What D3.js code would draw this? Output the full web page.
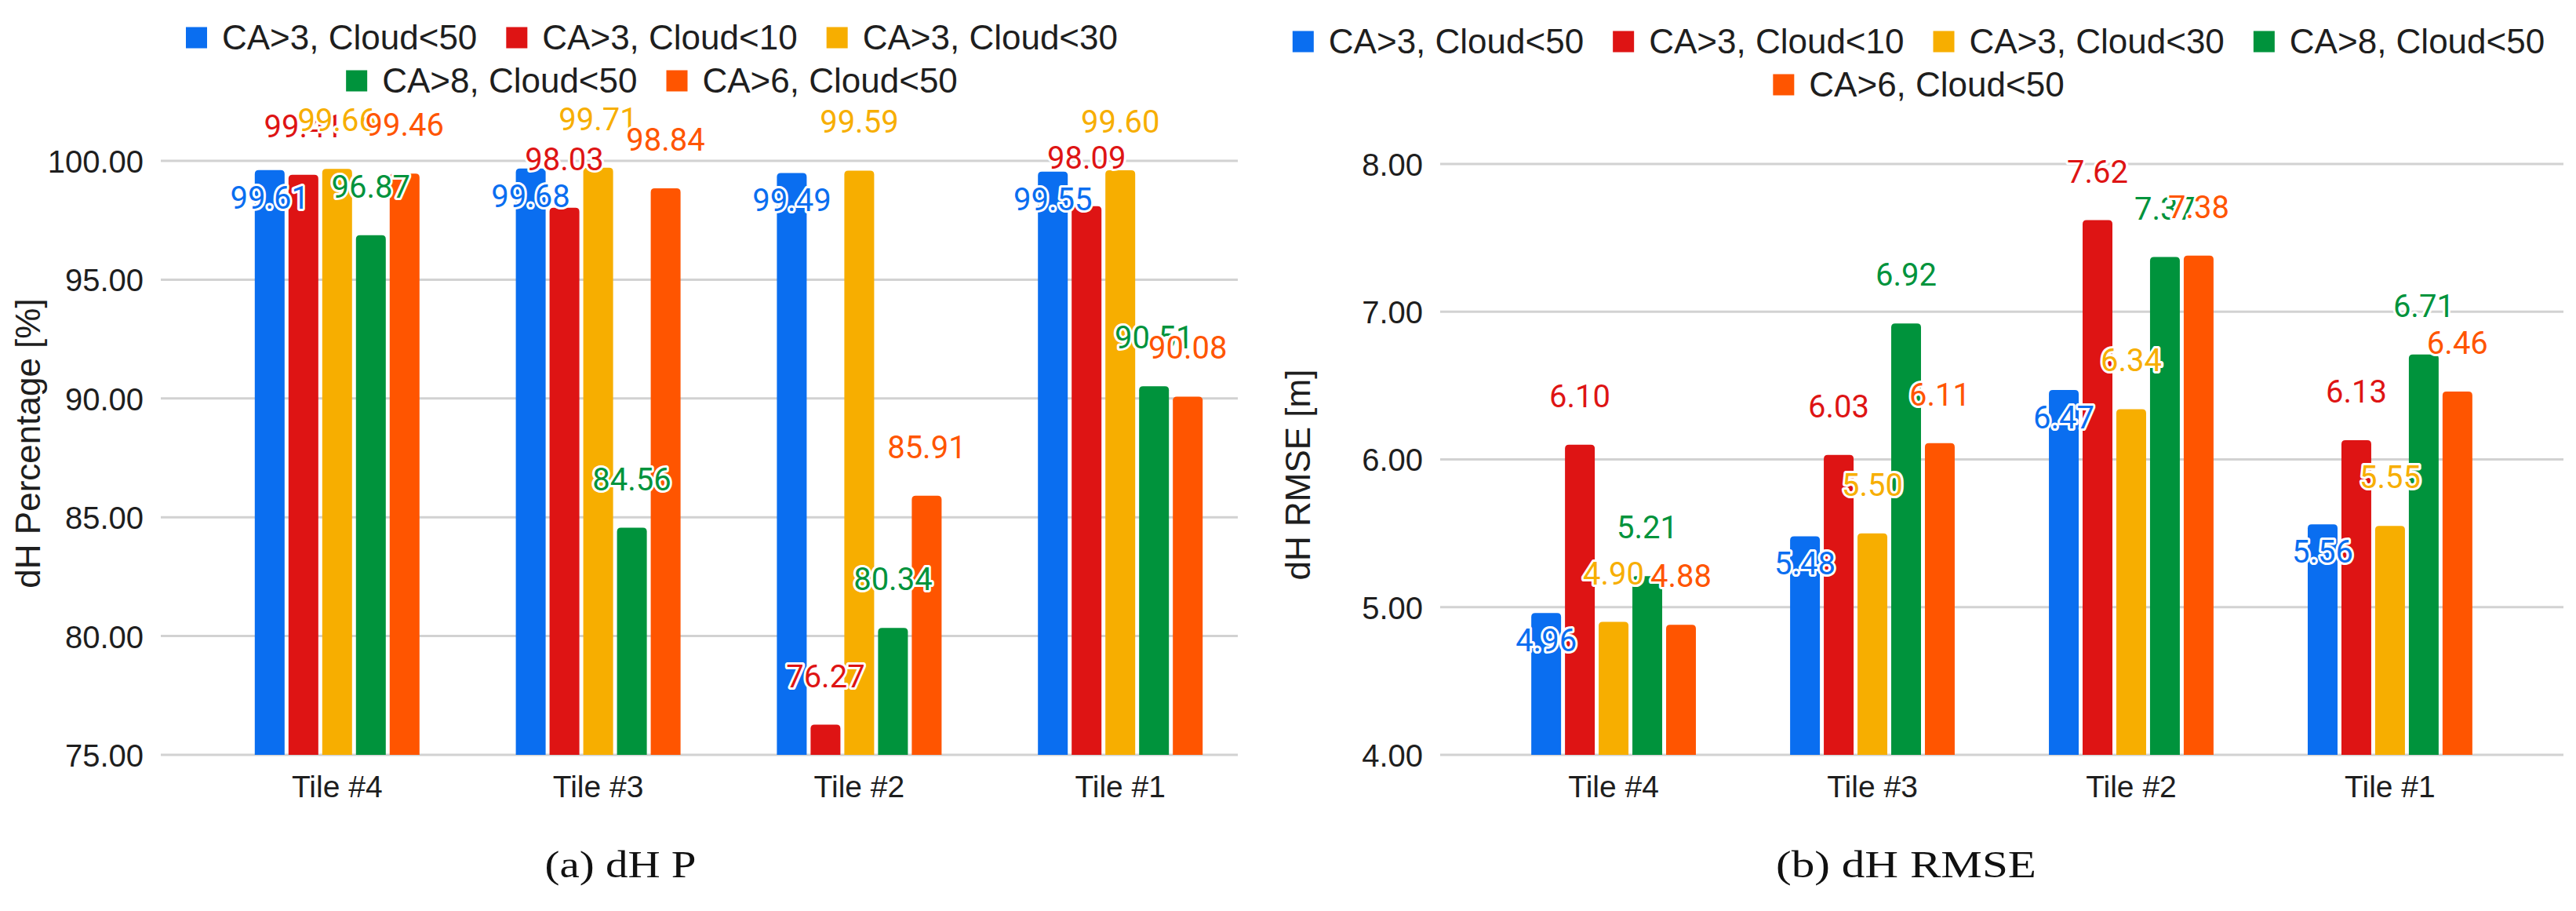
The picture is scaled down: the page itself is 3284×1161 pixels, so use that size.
<!DOCTYPE html>
<html>
<head>
<meta charset="utf-8">
<script src="https://cdn.jsdelivr.net/npm/d3@7"></script>
<style>
  html, body { margin: 0; padding: 0; background: #ffffff; }
  svg { display: block; }
</style>
</head>
<body>
<svg id="chart" width="3284" height="1161"></svg>
<script>
// ---------------- DATA ----------------
const categories = ["Tile #4", "Tile #3", "Tile #2", "Tile #1"];
const seriesNames = ["CA>3, Cloud<50", "CA>3, Cloud<10", "CA>3, Cloud<30", "CA>8, Cloud<50", "CA>6, Cloud<50"];
const seriesColors = ["#0a6ef0", "#de1414", "#f7ae00", "#00933c", "#ff5500"];

// (a) dH Percentage [%]
const pctCA3Cloud50 = [99.61, 99.68, 99.49, 99.55];
const pctCA3Cloud10 = [99.41, 98.03, 76.27, 98.09];
const pctCA3Cloud30 = [99.66, 99.71, 99.59, 99.60];
const pctCA8Cloud50 = [96.87, 84.56, 80.34, 90.51];
const pctCA6Cloud50 = [99.46, 98.84, 85.91, 90.08];
const pctTicks = [75, 80, 85, 90, 95, 100];

// (b) dH RMSE [m]
const rmseCA3Cloud50 = [4.96, 5.48, 6.47, 5.56];
const rmseCA3Cloud10 = [6.10, 6.03, 7.62, 6.13];
const rmseCA3Cloud30 = [4.90, 5.50, 6.34, 5.55];
const rmseCA8Cloud50 = [5.21, 6.92, 7.37, 6.71];
const rmseCA6Cloud50 = [4.88, 6.11, 7.38, 6.46];
const rmseTicks = [4, 5, 6, 7, 8];

// ---------------- DRAW ----------------
const svg = d3.select("#chart");
const AX_FONT = "'Liberation Sans', Arial, sans-serif";
const VAL_FONT = "Roboto, 'Liberation Sans', Arial, sans-serif";
const fmt = d3.format(".2f");

function barPath(x, y, w, h, r) {
  r = Math.min(r, h / 2, w / 2);
  return `M${x},${y + h}V${y + r}Q${x},${y} ${x + r},${y}H${x + w - r}Q${x + w},${y} ${x + w},${y + r}V${y + h}Z`;
}

function drawChart(cfg) {
  const g = svg.append("g");
  const y = d3.scaleLinear().domain(cfg.domain).range([cfg.yBottom, cfg.yTop]);
  const x0 = d3.scaleBand().domain(categories).range([cfg.bandStart, cfg.bandEnd])
    .paddingInner(cfg.padInner).paddingOuter(cfg.padOuter);
  const x1 = d3.scaleBand().domain(d3.range(seriesNames.length)).range([0, x0.bandwidth()])
    .paddingInner(0.116).paddingOuter(0);

  // gridlines
  g.append("g").selectAll("line").data(cfg.ticks).join("line")
    .attr("x1", cfg.gridStart).attr("x2", cfg.gridEnd)
    .attr("y1", d => y(d)).attr("y2", d => y(d))
    .attr("stroke", "#d2d2d2").attr("stroke-width", 3);

  // y axis (labels only)
  const yAxis = d3.axisLeft(y).tickValues(cfg.ticks).tickFormat(fmt).tickSize(0).tickPadding(0);
  const ya = g.append("g").attr("transform", `translate(${cfg.gridStart - 22},0)`).call(yAxis);
  ya.select(".domain").remove();
  ya.selectAll("text").attr("font-family", AX_FONT).attr("font-size", 40).attr("fill", "#1e1e1e")
    .attr("dy", "0.36em");

  // x axis labels
  const xAxis = d3.axisBottom(x0).tickSize(0).tickPadding(0);
  const xa = g.append("g").attr("transform", `translate(0,${cfg.xLabelY})`).call(xAxis);
  xa.select(".domain").remove();
  xa.selectAll("text").attr("font-family", AX_FONT).attr("font-size", 39).attr("fill", "#1e1e1e")
    .attr("dy", "0.36em");

  // bars
  const rows = [];
  cfg.series.forEach((vals, si) => {
    vals.forEach((v, ci) => rows.push({ si, ci, v }));
  });
  g.append("g").selectAll("path").data(rows).join("path")
    .attr("d", d => {
      const bx = x0(categories[d.ci]) + x1(d.si);
      const by = y(d.v);
      return barPath(bx, by, x1.bandwidth(), cfg.yBottom - by, 5);
    })
    .attr("fill", d => seriesColors[d.si]);

  // value labels
  g.append("g").selectAll("text").data(rows).join("text")
    .attr("x", d => x0(categories[d.ci]) + x1(d.si) + x1.bandwidth() / 2)
    .attr("y", d => d.si === 0 ? y(d.v) + 35 + 14 : y(d.v) - 62 + 14)
    .attr("text-anchor", "middle")
    .attr("font-family", VAL_FONT).attr("font-size", 40)
    .attr("fill", d => seriesColors[d.si])
    .attr("stroke", "#ffffff").attr("stroke-width", 6).attr("stroke-linejoin", "round")
    .attr("paint-order", "stroke")
    .text(d => fmt(d.v));

  // y title
  g.append("text")
    .attr("transform", `translate(${cfg.titleX},${cfg.titleY}) rotate(-90)`)
    .attr("text-anchor", "middle")
    .attr("font-family", AX_FONT).attr("font-size", 44).attr("fill", "#1e1e1e")
    .text(cfg.yTitle);

  // legend
  cfg.legendRows.forEach((row, ri) => {
    const lg = g.append("g");
    let cx = 0;
    const items = [];
    row.forEach(si => {
      const it = lg.append("g");
      it.append("rect").attr("x", 0).attr("y", -13.5).attr("width", 27).attr("height", 27)
        .attr("fill", seriesColors[si]);
      const t = it.append("text").attr("x", 46).attr("y", 15)
        .attr("font-family", AX_FONT).attr("font-size", 44).attr("fill", "#1e1e1e")
        .text(seriesNames[si]);
      const w = 46 + t.node().getComputedTextLength();
      items.push({ it, w });
    });
    const total = d3.sum(items, d => d.w) + 37 * (items.length - 1);
    let xx = cfg.legendCx - total / 2;
    items.forEach(d => {
      d.it.attr("transform", `translate(${xx},${cfg.legendY[ri]})`);
      xx += d.w + 37;
    });
  });

  // caption
  g.append("text")
    .attr("x", cfg.captionX).attr("y", 1118)
    .attr("text-anchor", "middle")
    .attr("font-family", "'Liberation Serif', 'Times New Roman', serif")
    .attr("font-size", 48).attr("fill", "#111")
    .attr("textLength", cfg.captionW).attr("lengthAdjust", "spacingAndGlyphs")
    .text(cfg.caption);
}

drawChart({
  domain: [75, 100], ticks: pctTicks, yBottom: 962, yTop: 205,
  bandStart: 205, bandEnd: 1653, padInner: 0.369, padOuter: 0.36,
  gridStart: 205, gridEnd: 1578, xLabelY: 1002,
  series: [pctCA3Cloud50, pctCA3Cloud10, pctCA3Cloud30, pctCA8Cloud50, pctCA6Cloud50],
  yTitle: "dH Percentage [%]", titleX: 51, titleY: 565,
  legendRows: [[0, 1, 2], [3, 4]], legendCx: 831, legendY: [48, 103],
  caption: "(a) dH P", captionX: 791, captionW: 193
});

drawChart({
  domain: [4, 8], ticks: rmseTicks, yBottom: 962, yTop: 209,
  bandStart: 1836, bandEnd: 3268, padInner: 0.364, padOuter: 0.352,
  gridStart: 1836, gridEnd: 3268, xLabelY: 1002,
  series: [rmseCA3Cloud50, rmseCA3Cloud10, rmseCA3Cloud30, rmseCA8Cloud50, rmseCA6Cloud50],
  yTitle: "dH RMSE [m]", titleX: 1670, titleY: 605,
  legendRows: [[0, 1, 2, 3], [4]], legendCx: 2446, legendY: [53, 108],
  caption: "(b) dH RMSE", captionX: 2430, captionW: 332
});
</script>
</body>
</html>
